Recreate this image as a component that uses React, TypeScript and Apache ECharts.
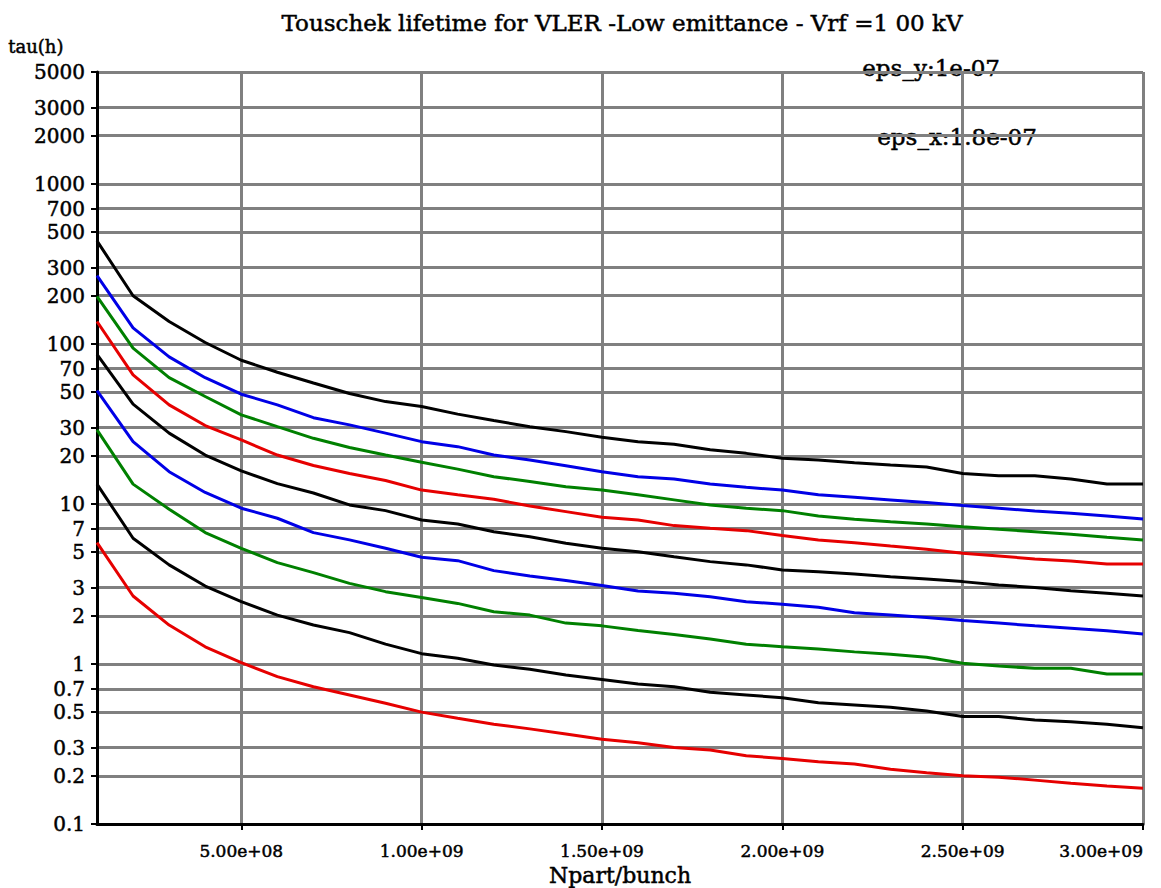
import React, { useEffect, useRef } from "react";
import * as echarts from "echarts";

// Number of particles per bunch (x)
const npart = [
  1e8, 2e8, 3e8, 4e8, 5e8, 6e8, 7e8, 8e8, 9e8, 1.0e9,
  1.1e9, 1.2e9, 1.3e9, 1.4e9, 1.5e9, 1.6e9, 1.7e9, 1.8e9, 1.9e9, 2.0e9,
  2.1e9, 2.2e9, 2.3e9, 2.4e9, 2.5e9, 2.6e9, 2.7e9, 2.8e9, 2.9e9, 3.0e9,
];

// Touschek lifetime tau (h), one curve each
const black1 = [440, 200, 138, 102, 79, 66.5, 57, 49, 43.6, 40.6, 36.4, 33.2, 30.4, 28.3, 26.1, 24.5, 23.6, 21.8, 20.7, 19.3, 18.8, 18.1, 17.5, 17.0, 15.5, 15.0, 15.0, 14.3, 13.3, 13.3];
const blue1 = [267, 126, 83, 61.5, 48.5, 41.6, 34.6, 31.2, 27.7, 24.5, 22.8, 20.2, 18.8, 17.3, 15.9, 14.8, 14.3, 13.3, 12.7, 12.2, 11.4, 11.0, 10.6, 10.2, 9.76, 9.4, 9.04, 8.75, 8.41, 8.05];
const green1 = [198, 94, 61.5, 46.9, 36, 30.4, 25.7, 22.5, 20.2, 18.2, 16.5, 14.8, 13.8, 12.8, 12.2, 11.4, 10.6, 9.86, 9.4, 9.08, 8.41, 8.02, 7.75, 7.5, 7.21, 6.95, 6.71, 6.46, 6.19, 5.96];
const red1 = [138, 64, 41.6, 30.9, 25.1, 20.2, 17.4, 15.5, 14.0, 12.2, 11.4, 10.7, 9.7, 8.95, 8.26, 7.94, 7.32, 7.05, 6.81, 6.34, 5.96, 5.73, 5.46, 5.21, 4.92, 4.73, 4.53, 4.4, 4.22, 4.22];
const black2 = [86, 42, 27.7, 20.2, 16.1, 13.4, 11.7, 9.86, 9.08, 7.94, 7.5, 6.71, 6.24, 5.68, 5.28, 5.03, 4.68, 4.36, 4.16, 3.87, 3.77, 3.65, 3.51, 3.4, 3.27, 3.12, 3.0, 2.87, 2.77, 2.66];
const blue2 = [51, 24.5, 15.9, 11.8, 9.4, 8.14, 6.62, 5.96, 5.28, 4.64, 4.42, 3.83, 3.55, 3.32, 3.09, 2.86, 2.77, 2.63, 2.45, 2.36, 2.26, 2.09, 2.02, 1.95, 1.87, 1.8, 1.73, 1.67, 1.61, 1.54];
const green2 = [29, 13.3, 9.27, 6.62, 5.28, 4.3, 3.72, 3.19, 2.83, 2.6, 2.39, 2.12, 2.02, 1.8, 1.73, 1.62, 1.53, 1.43, 1.33, 1.28, 1.24, 1.19, 1.15, 1.1, 1.01, 0.97, 0.94, 0.94, 0.866, 0.866];
const black3 = [13.3, 6.1, 4.16, 3.07, 2.45, 2.02, 1.75, 1.57, 1.33, 1.16, 1.085, 0.985, 0.926, 0.853, 0.8, 0.75, 0.72, 0.665, 0.64, 0.616, 0.573, 0.554, 0.536, 0.508, 0.469, 0.469, 0.447, 0.436, 0.42, 0.4];
const red2 = [5.73, 2.66, 1.75, 1.28, 1.02, 0.833, 0.72, 0.64, 0.568, 0.5, 0.458, 0.42, 0.393, 0.365, 0.338, 0.322, 0.301, 0.29, 0.267, 0.257, 0.245, 0.237, 0.22, 0.209, 0.2, 0.196, 0.188, 0.18, 0.173, 0.167];

const curves = [
  { name: "c1", data: black1, color: "#000000" },
  { name: "c2", data: blue1, color: "#0000e6" },
  { name: "c3", data: green1, color: "#008000" },
  { name: "c4", data: red1, color: "#e60000" },
  { name: "c5", data: black2, color: "#000000" },
  { name: "c6", data: blue2, color: "#0000e6" },
  { name: "c7", data: green2, color: "#008000" },
  { name: "c8", data: black3, color: "#000000" },
  { name: "c9", data: red2, color: "#e60000" },
];

// Tick labels
const yTicks = [0.1, 0.2, 0.3, 0.5, 0.7, 1, 2, 3, 5, 7, 10, 20, 30, 50, 70, 100, 200, 300, 500, 700, 1000, 2000, 3000, 5000];
const xTicks = [5e8, 1e9, 1.5e9, 2e9, 2.5e9, 3e9];

const titleText = "Touschek lifetime for VLER -Low emittance - Vrf =1 00 kV";
const yName = "tau(h)";
const xName = "Npart/bunch";
const epsY = "eps_y:1e-07";
const epsX = "eps_x:1.8e-07";

const FONT = "DejaVu Serif";
// a thin outline gives the text the medium weight of the reference
const EMB = { textBorderColor: "#000", textBorderWidth: 0.5 };

function fmtX(v: number) {
  return v.toExponential(2).replace(/e([+-])(\d)$/, "e$10$2");
}

export default function App() {
  const ref = useRef<HTMLDivElement>(null);
  useEffect(() => {
    if (!ref.current) return;
    const chart = echarts.init(ref.current, null, { renderer: "svg" });
    const yLogTicks = yTicks.map((t) => Math.log10(t));
    const option: any = {
      animation: false,
      backgroundColor: "#ffffff",
      title: {
        text: titleText,
        left: 617,
        top: 6,
        textAlign: "center",
        textStyle: { fontFamily: FONT, fontSize: 23, fontWeight: "normal", color: "#000", ...EMB },
      },
      grid: { left: 97, right: 18, top: 72, bottom: 64, containLabel: false, outerBoundsMode: "none" },
      xAxis: {
        type: "value",
        min: 1e8,
        max: 3e9,
        name: xName,
        nameLocation: "middle",
        nameGap: 34,
        nameTextStyle: { fontFamily: FONT, fontSize: 22, color: "#000", ...EMB },
        axisLine: { show: true, onZero: false, lineStyle: { color: "#000", width: 3 } },
        axisTick: { show: true, customValues: xTicks, length: 6, lineStyle: { color: "#000", width: 2 } },
        axisLabel: {
          customValues: xTicks,
          formatter: (v: number) => fmtX(v),
          fontFamily: FONT,
          fontSize: 17,
          color: "#000",
          margin: 18,
          alignMaxLabel: "right",
          ...EMB,
        },
        splitLine: { show: true, lineStyle: { color: "#808080", width: 3 } },
      },
      yAxis: {
        type: "value",
        min: -1,
        max: Math.log10(5000),
        axisLine: { show: true, onZero: false, lineStyle: { color: "#000", width: 3 } },
        axisTick: { show: true, customValues: yLogTicks, length: 6, lineStyle: { color: "#000", width: 2 } },
        axisLabel: {
          customValues: yLogTicks,
          formatter: (v: number) => String(Number(Math.pow(10, v).toPrecision(2))),
          fontFamily: FONT,
          fontSize: 20,
          color: "#000",
          margin: 12,
          ...EMB,
        },
        splitLine: { show: true, lineStyle: { color: "#808080", width: 3 } },
      },
      graphic: [
        { type: "text", left: 8, top: 37, style: { text: yName, fontFamily: FONT, fontSize: 18, fill: "#000", stroke: "#000", lineWidth: 0.5 } },
        { type: "text", left: 862, top: 56, style: { text: epsY, fontFamily: FONT, fontSize: 23, fill: "#000", stroke: "#000", lineWidth: 0.5 } },
        { type: "text", left: 877, top: 125, style: { text: epsX, fontFamily: FONT, fontSize: 23, fill: "#000", stroke: "#000", lineWidth: 0.5 } },
      ],
      series: curves.map((c) => ({
        name: c.name,
        type: "line",
        symbol: "none",
        lineStyle: { color: c.color, width: 3 },
        itemStyle: { color: c.color },
        data: npart.map((x, i) => [x, Math.log10(c.data[i])]),
      })),
    };
    chart.setOption(option);
    return () => chart.dispose();
  }, []);
  return (
    <div
      ref={ref}
      style={{ position: "absolute", left: 0, top: 0, width: 1161, height: 888 }}
    />
  );
}
